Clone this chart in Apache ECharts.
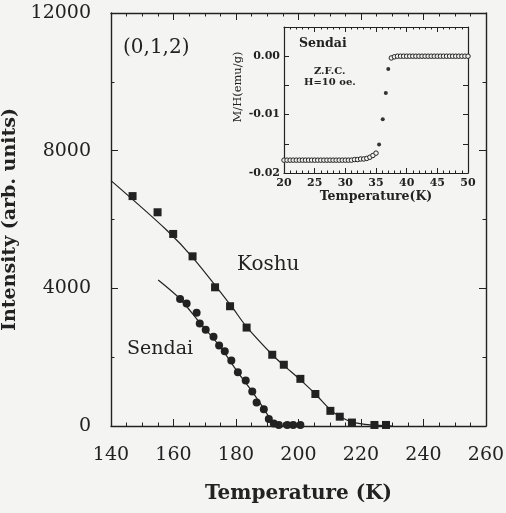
<!DOCTYPE html>
<html>
<head>
<meta charset="utf-8">
<script src="https://cdn.jsdelivr.net/npm/echarts@6/dist/echarts.min.js"></script>
<style>
  html, body { margin: 0; padding: 0; background: #f4f4f2; }
  #chart { width: 506px; height: 513px; }
</style>
</head>
<body>
<div id="chart"></div>
<script>
// main plot : (0,1,2) intensity vs temperature
var koshuT = [146.9, 154.9, 159.9, 166.1, 173.3, 178.1, 183.4, 191.6, 195.3, 200.6, 205.4, 210.2, 213.2, 217.1, 224.3, 228.0];
var koshuI = [6680, 6210, 5580, 4930, 4030, 3480, 2860, 2070, 1780, 1370, 930, 440, 270, 100, 30, 30];

var sendaiT = [162.1, 164.2, 167.4, 168.4, 170.3, 172.8, 174.6, 176.4, 178.5, 180.6, 183.1, 185.2, 186.6, 188.9, 190.5, 192.1, 193.7, 196.4, 198.3, 200.6];
var sendaiI = [3690, 3560, 3290, 2980, 2800, 2590, 2340, 2170, 1900, 1560, 1320, 1000, 680, 490, 200, 70, 30, 30, 30, 30];

// fitted curves
var koshuFitT = [140, 157.6, 166.1, 178.3, 183.4, 191.6, 195.3, 200.6, 205.4, 210.2, 213.4, 217.1, 223, 230];
var koshuFitI = [7130, 5710, 4900, 3510, 2880, 2070, 1760, 1340, 930, 470, 270, 120, 30, 0];
var sendaiFitT = [155.1, 162.1, 168.4, 174.6, 180.6, 185.2, 188.9, 191.5, 194, 200];
var sendaiFitI = [4240, 3690, 3000, 2340, 1560, 1000, 500, 150, 20, 0];

// inset : Z.F.C. magnetization
var lowT = [20, 20.5, 21, 21.5, 22, 22.5, 23, 23.5, 24, 24.5, 25, 25.5, 26, 26.5, 27, 27.5, 28, 28.5, 29, 29.5, 30, 30.5, 31, 31.5, 32, 32.5, 33, 33.5, 34, 34.5, 35];
var lowM = [-0.0178, -0.0178, -0.0178, -0.0178, -0.0178, -0.0178, -0.0178, -0.0178, -0.0178, -0.0178, -0.0178, -0.0178, -0.0178, -0.0178, -0.0178, -0.0178, -0.0178, -0.0178, -0.0178, -0.0178, -0.0178, -0.0178, -0.0178, -0.0177, -0.0177, -0.0176, -0.0176, -0.0175, -0.0173, -0.0170, -0.0166];
var midT = [35.5, 36.1, 36.6, 37.0];
var midM = [-0.0151, -0.0108, -0.0063, -0.0022];
var highT = [37.5, 38, 38.5, 39, 39.5, 40, 40.5, 41, 41.5, 42, 42.5, 43, 43.5, 44, 44.5, 45, 45.5, 46, 46.5, 47, 47.5, 48, 48.5, 49, 49.5, 50];
var highM = [-0.0003, -0.0001, 0, 0, 0, 0, 0, 0, 0, 0, 0, 0, 0, 0, 0, 0, 0, 0, 0, 0, 0, 0, 0, 0, 0, 0];

function pairs(xs, ys) {
  return xs.map(function (x, i) { return [x, ys[i]]; });
}

var serif = 'DejaVu Serif';
var ink = '#222';

function frameAxis(gridIndex, position, min, max, interval, split) {
  return {
    gridIndex: gridIndex,
    position: position,
    type: 'value',
    min: min, max: max, interval: interval,
    axisLine: { onZero: false, lineStyle: { color: ink, width: 1.4 } },
    axisTick: { inside: true, length: 7, lineStyle: { color: ink } },
    minorTick: { show: true, splitNumber: split, length: 3.5, lineStyle: { color: ink } },
    axisLabel: { show: false },
    splitLine: { show: false }
  };
}

var xMain = frameAxis(0, 'bottom', 140, 260, 20, 4);
xMain.axisLabel = { show: true, margin: 20, color: ink, fontFamily: serif, fontSize: 19 };
xMain.name = 'Temperature (K)';
xMain.nameLocation = 'middle';
xMain.nameGap = 58;
xMain.nameTextStyle = { color: ink, fontFamily: serif, fontSize: 20, fontWeight: 'bold' };

var yMain = frameAxis(0, 'left', 0, 12000, 4000, 2);
yMain.axisLabel = {
  show: true, margin: 20, color: ink, fontFamily: serif, fontSize: 19,
  formatter: function (v) { return String(v); }
};
yMain.name = 'Intensity (arb. units)';
yMain.nameLocation = 'middle';
yMain.nameGap = 84;
yMain.nameTextStyle = { color: ink, fontFamily: serif, fontSize: 19, fontWeight: 'bold' };

var xIn = frameAxis(1, 'bottom', 20, 50, 5, 5);
xIn.axisTick.length = 5;
xIn.minorTick.length = 2.5;
xIn.axisLine.lineStyle.width = 1.2;
xIn.axisLabel = { show: true, margin: 5, color: ink, fontFamily: serif, fontSize: 11, fontWeight: 'bold' };
xIn.name = 'Temperature(K)';
xIn.nameLocation = 'middle';
xIn.nameGap = 15;
xIn.nameTextStyle = { color: ink, fontFamily: serif, fontSize: 12.5, fontWeight: 'bold' };

var yIn = frameAxis(1, 'left', -0.02, 0.005, 0.01, 2);
yIn.axisTick.length = 5;
yIn.minorTick.length = 5;
yIn.axisLine.lineStyle.width = 1.2;
yIn.axisLabel = {
  show: true, margin: 4, color: ink, fontFamily: serif, fontSize: 11, fontWeight: 'bold',
  formatter: function (v) {
    var r = Math.round(v * 100);
    if (Math.abs(v * 100 - r) > 1e-6) return '';
    return (r / 100).toFixed(2);
  }
};
yIn.name = 'M/H(emu/g)';
yIn.nameLocation = 'middle';
yIn.nameGap = 40;
yIn.nameTextStyle = { color: ink, fontFamily: serif, fontSize: 11.5, padding: [0, 0, 0, 26] };

var xInTop = frameAxis(1, 'top', 20, 50, 5, 5);
xInTop.axisTick.length = 5; xInTop.minorTick.length = 2.5; xInTop.axisLine.lineStyle.width = 1.2;
var yInRight = frameAxis(1, 'right', -0.02, 0.005, 0.01, 2);
yInRight.axisTick.length = 5; yInRight.minorTick.length = 5; yInRight.axisLine.lineStyle.width = 1.2;

var option = {
  backgroundColor: '#f4f4f2',
  animation: false,
  grid: [
    { left: 111, right: 20, top: 13, bottom: 87, outerBoundsMode: 'none', containLabel: false },
    { left: 284, right: 38, top: 27, bottom: 340, outerBoundsMode: 'none', containLabel: false }
  ],
  xAxis: [xMain, frameAxis(0, 'top', 140, 260, 20, 4), xIn, xInTop],
  yAxis: [yMain, frameAxis(0, 'right', 0, 12000, 4000, 2), yIn, yInRight],
  graphic: [
    { type: 'text', left: 123, top: 38, style: { text: '(0,1,2)', fill: ink, font: '20px "DejaVu Serif"' } },
    { type: 'text', left: 237, top: 255, style: { text: 'Koshu', fill: ink, font: '20px "DejaVu Serif"' } },
    { type: 'text', left: 127, top: 340, style: { text: 'Sendai', fill: ink, font: '19px "DejaVu Serif"' } },
    { type: 'text', left: 299, top: 37, style: { text: 'Sendai', fill: ink, font: 'bold 12.5px "DejaVu Serif"' } },
    { type: 'text', left: 314, top: 66, style: { text: 'Z.F.C.', fill: ink, font: 'bold 10px "DejaVu Serif"' } },
    { type: 'text', left: 304, top: 77, style: { text: 'H=10 oe.', fill: ink, font: 'bold 10px "DejaVu Serif"' } }
  ],
  series: [
    {
      name: 'Koshu fit', type: 'line', xAxisIndex: 0, yAxisIndex: 0,
      data: pairs(koshuFitT, koshuFitI), smooth: 0.3, showSymbol: false,
      lineStyle: { color: ink, width: 1.2 }
    },
    {
      name: 'Sendai fit', type: 'line', xAxisIndex: 0, yAxisIndex: 0,
      data: pairs(sendaiFitT, sendaiFitI), smooth: 0.3, showSymbol: false,
      lineStyle: { color: ink, width: 1.2 }
    },
    {
      name: 'Koshu', type: 'scatter', xAxisIndex: 0, yAxisIndex: 0,
      data: pairs(koshuT, koshuI), symbol: 'rect', symbolSize: 8,
      itemStyle: { color: ink, opacity: 1 }
    },
    {
      name: 'Sendai', type: 'scatter', xAxisIndex: 0, yAxisIndex: 0,
      data: pairs(sendaiT, sendaiI), symbol: 'circle', symbolSize: 8,
      itemStyle: { color: ink, opacity: 1 }
    },
    {
      name: 'ZFC plateaus', type: 'scatter', xAxisIndex: 2, yAxisIndex: 2,
      data: pairs(lowT, lowM).concat(pairs(highT, highM)), symbol: 'circle', symbolSize: 4.5,
      itemStyle: { color: '#f4f4f2', borderColor: '#222', borderWidth: 1, opacity: 1 }
    },
    {
      name: 'ZFC transition', type: 'scatter', xAxisIndex: 2, yAxisIndex: 2,
      data: pairs(midT, midM), symbol: 'circle', symbolSize: 4,
      itemStyle: { color: '#333', opacity: 1 }
    }
  ]
};

var chart = echarts.init(document.getElementById('chart'));
chart.setOption(option);
</script>
</body>
</html>
